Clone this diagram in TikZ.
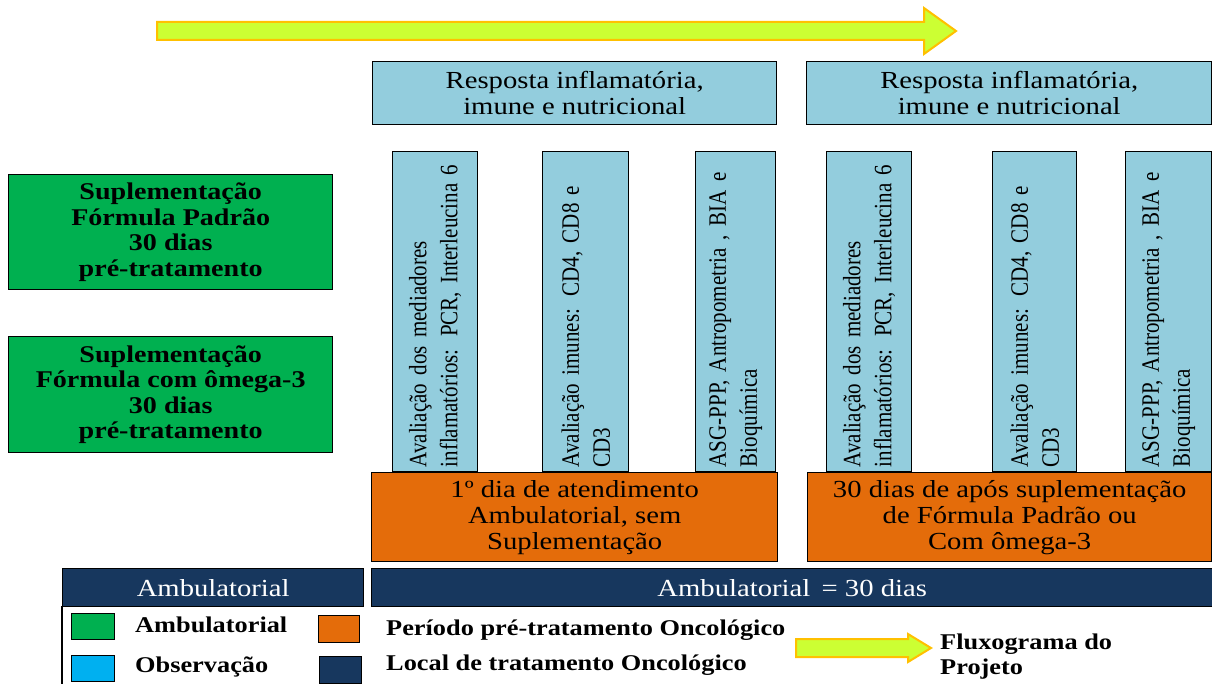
\documentclass[tikz,border=0pt]{standalone}
\usepackage{fontspec}
\setmainfont{Liberation Serif}
\newfontfamily\wideserif[FakeStretch=1.17]{Liberation Serif}
\newfontfamily\tallserif[FakeStretch=0.84]{Liberation Serif}
\definecolor{aquafill}{HTML}{93CDDD}
\definecolor{greenfill}{HTML}{00B050}
\definecolor{orangefill}{HTML}{E46C0A}
\definecolor{navyfill}{HTML}{17375E}
\definecolor{cyanfill}{HTML}{00B0F0}
\definecolor{arrowfill}{HTML}{CCFF33}
\definecolor{arrowline}{HTML}{FFC000}
\begin{document}
\begin{tikzpicture}[x=1pt,y=-1pt,
        box/.style={draw=black, line width=1.4pt, anchor=north west, inner sep=0pt, align=center,
            font=\wideserif\fontsize{24.5}{26}\selectfont},
        tallbox/.style={draw=black, line width=1.4pt, fill=aquafill, rotate=90, anchor=north west,
            minimum width=320pt, inner xsep=4pt, inner ysep=0pt, text width=312pt, align=left,
            font=\tallserif\fontsize{25}{31}\selectfont},
        greenbox/.style={box, fill=greenfill, minimum width=324pt,
            font=\wideserif\bfseries\fontsize{24}{25.5}\selectfont},
        navybar/.style={box, fill=navyfill, text=white, minimum height=38pt},
        legsquare/.style={draw=black, line width=1.4pt, anchor=north west, inner sep=0pt},
        legtext/.style={anchor=base west, inner sep=0pt, font=\wideserif\bfseries\fontsize{22.5}{25}\selectfont},
        blockarrow/.style={draw=arrowline, fill=arrowfill, line width=2pt, line join=miter}]
    \useasboundingbox (0,0) rectangle (1212,684);

    % project flow arrow
    \draw[blockarrow] (157,22) -- (924,22) -- (924,8) -- (956,31) -- (924,54) -- (924,40) -- (157,40) -- cycle;

    % response boxes
    \node[box, fill=aquafill, minimum width=404pt, minimum height=63pt] (resp1) at (372,61) {Resposta inflamatória,\\imune e nutricional};
    \node[box, fill=aquafill, minimum width=405pt, minimum height=63pt] (resp2) at (806,61) {Resposta inflamatória,\\imune e nutricional};

    % assessments, before and after
    \node[tallbox, minimum height=85pt] (infl1) at (392,472) {Avaliação dos mediadores\\inflamatórios: PCR, Interleucina 6};
    \node[tallbox, minimum height=86pt] (imun1) at (542,472) {Avaliação imunes: CD4, CD8 e\\CD3};
    \node[tallbox, minimum height=80pt] (nutr1) at (695,472) {ASG-PPP, Antropometria , BIA e\\Bioquímica};
    \node[tallbox, minimum height=85pt] (infl2) at (826,472) {Avaliação dos mediadores\\inflamatórios: PCR, Interleucina 6};
    \node[tallbox, minimum height=84pt] (imun2) at (992,472) {Avaliação imunes: CD4, CD8 e\\CD3};
    \node[tallbox, minimum height=86pt] (nutr2) at (1125,472) {ASG-PPP, Antropometria , BIA e\\Bioquímica};

    % periods
    \node[box, fill=orangefill, minimum width=406pt, minimum height=89pt] (dia1) at (371,472) {1º dia de atendimento\\Ambulatorial, sem\\Suplementação};
    \node[box, fill=orangefill, minimum width=404pt, minimum height=89pt] (dia30) at (807,472) {30 dias de após suplementação\\de Fórmula Padrão ou\\Com ômega-3};

    \node[navybar, minimum width=301pt] (amb) at (62,568) {Ambulatorial};
    \node[navybar, minimum width=841pt] (amb30) at (371,568) {Ambulatorial \,= 30 dias};

    % supplementation groups
    \node[greenbox, minimum height=115pt] (padrao) at (8,174) {Suplementação\\Fórmula Padrão\\30 dias\\pré-tratamento};
    \node[greenbox, minimum height=116pt] (omega) at (8,336) {Suplementação\\Fórmula com ômega-3\\30 dias\\pré-tratamento};

    % legend
    \draw[line width=1.4pt] (62,606) -- (62,684);
    \node[legsquare, fill=greenfill, minimum width=43pt, minimum height=26pt] (lgreen) at (71,613) {};
    \node[legsquare, fill=cyanfill, minimum width=43pt, minimum height=26pt] (lcyan) at (71,655) {};
    \node[legsquare, fill=orangefill, minimum width=41pt, minimum height=27pt] (lorange) at (318,615) {};
    \node[legsquare, fill=navyfill, minimum width=42pt, minimum height=27pt] (lnavy) at (319,656) {};
    \node[legtext] (tgreen) at (135,632) {Ambulatorial};
    \node[legtext] (tcyan) at (135,672) {Observação};
    \node[legtext] (torange) at (386,635) {Período pré-tratamento Oncológico};
    \node[legtext] (tnavy) at (386,670) {Local de tratamento Oncológico};
    \draw[blockarrow] (796,639) -- (908,639) -- (908,634) -- (931,648) -- (908,662) -- (908,657) -- (796,657) -- cycle;
    \node[legtext, anchor=west, align=left] (tarrow) at (940,657) {Fluxograma do\\Projeto};
\end{tikzpicture}
\end{document}
